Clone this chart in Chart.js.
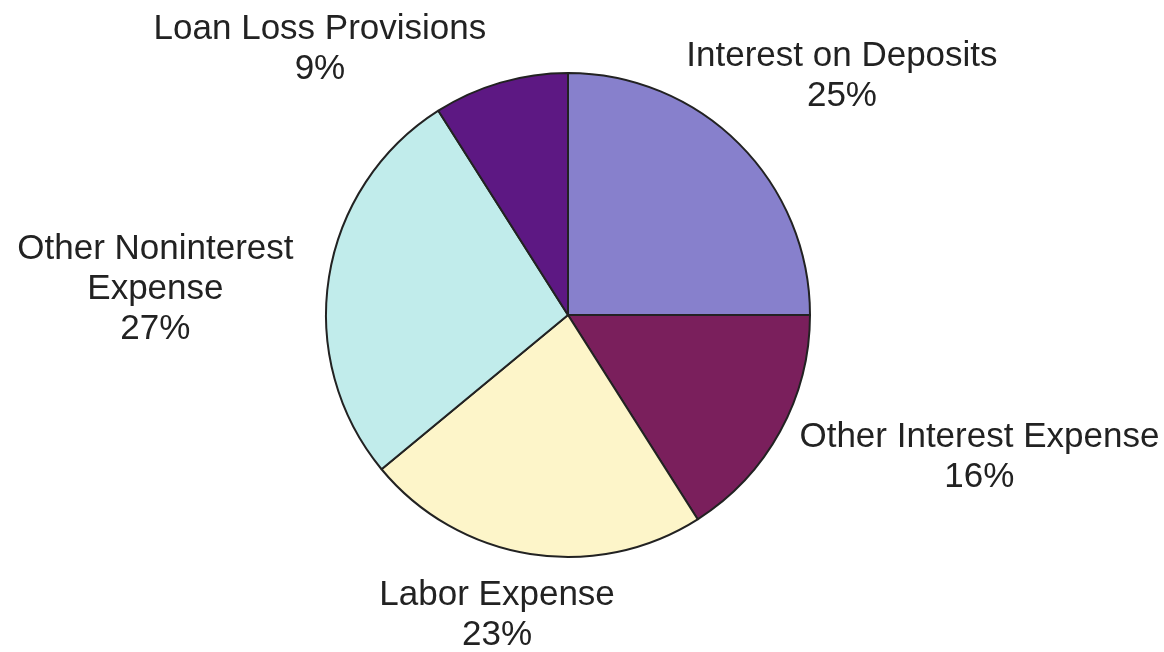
<!DOCTYPE html>
<html>
<head>
<meta charset="utf-8">
<script src="https://cdn.jsdelivr.net/npm/chart.js@4.4.1/dist/chart.umd.min.js"></script>
<style>
  html, body { margin: 0; padding: 0; background: #fff; }
  #wrap { width: 1164px; height: 652px; position: relative; }
</style>
</head>
<body>
<div id="wrap"><canvas id="pie"></canvas></div>
<script>
// data, clockwise from 12 o'clock
const categories = ['Interest on Deposits', 'Other Interest Expense', 'Labor Expense', 'Other Noninterest Expense', 'Loan Loss Provisions'];
const shares = [25, 16, 23, 27, 9];
const sliceColors = ['#8780cc', '#7a1f5c', '#fdf5c9', '#c1eceb', '#5d1883'];

// label text lines and where they sit, as offsets from the pie centre in units of radius
const labelLines = [
  ['Interest on Deposits'],
  ['Other Interest Expense'],
  ['Labor Expense'],
  ['Other Noninterest', 'Expense'],
  ['Loan Loss Provisions']
];
const labelOffsets = [[1.132, -1.07], [1.70, 0.507], [-0.293, 1.158], [-1.705, -0.273], [-1.025, -1.18]];

const outsideLabels = {
  id: 'outsideLabels',
  afterDraw(chart) {
    const ctx = chart.ctx;
    const arcs = chart.getDatasetMeta(0).data;
    const cx = arcs[0].x, cy = arcs[0].y, r = arcs[0].outerRadius;
    ctx.save();
    ctx.font = '35px "Liberation Sans", Arial, sans-serif';
    ctx.fillStyle = '#222';
    ctx.textAlign = 'center';
    ctx.textBaseline = 'middle';
    const lh = 40;
    arcs.forEach((arc, i) => {
      const lines = labelLines[i].concat(shares[i] + '%');
      const x = cx + labelOffsets[i][0] * r;
      const y = cy + labelOffsets[i][1] * r;
      lines.forEach((t, j) => ctx.fillText(t, x, y + j * lh));
    });
    ctx.restore();
  }
};

new Chart(document.getElementById('pie'), {
  type: 'pie',
  data: {
    labels: categories,
    datasets: [{
      data: shares,
      backgroundColor: sliceColors,
      borderColor: '#222',
      borderWidth: 2
    }]
  },
  options: {
    responsive: true,
    maintainAspectRatio: false,
    animation: false,
    layout: { padding: { top: 72, bottom: 94, left: 0, right: 28 } },
    plugins: { legend: { display: false }, tooltip: { enabled: false } }
  },
  plugins: [outsideLabels]
});
</script>
</body>
</html>
